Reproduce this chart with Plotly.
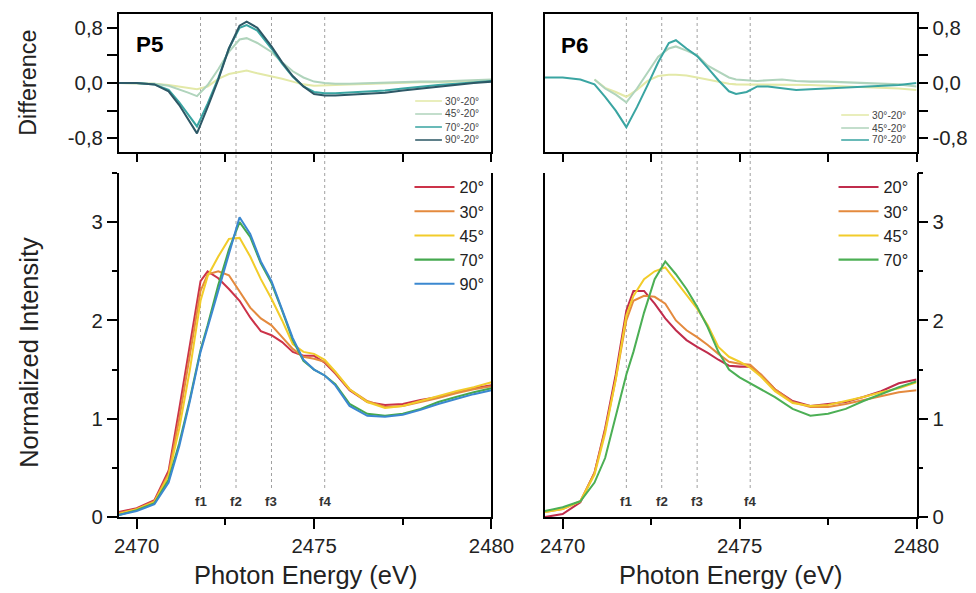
import plotly.graph_objects as go

# ---------------- data ----------------
energy = [2469.5, 2470.0, 2470.5, 2470.9, 2471.2, 2471.5, 2471.8, 2472.0, 2472.3, 2472.6,
          2472.9, 2473.2, 2473.5, 2473.8, 2474.1, 2474.4, 2474.7, 2475.0, 2475.3, 2475.6,
          2476.0, 2476.5, 2477.0, 2477.5, 2478.0, 2478.5, 2479.0, 2479.5, 2480.0]

p5_20 = [0.05, 0.09, 0.17, 0.47, 1.10, 1.75, 2.40, 2.50, 2.43, 2.32, 2.20, 2.03, 1.89, 1.85, 1.78,
         1.68, 1.64, 1.64, 1.57, 1.46, 1.29, 1.17, 1.14, 1.15, 1.19, 1.22, 1.27, 1.31, 1.34]
p5_30 = [0.04, 0.08, 0.16, 0.44, 1.00, 1.65, 2.30, 2.47, 2.50, 2.46, 2.30, 2.13, 2.02, 1.95, 1.83,
         1.71, 1.63, 1.61, 1.58, 1.47, 1.30, 1.18, 1.12, 1.13, 1.17, 1.21, 1.26, 1.30, 1.33]
p5_45 = [0.03, 0.08, 0.15, 0.42, 0.90, 1.50, 2.20, 2.45, 2.65, 2.83, 2.84, 2.65, 2.42, 2.22, 2.00,
         1.76, 1.68, 1.66, 1.60, 1.48, 1.30, 1.17, 1.11, 1.13, 1.18, 1.23, 1.28, 1.32, 1.37]
p5_70 = [0.02, 0.07, 0.14, 0.38, 0.75, 1.20, 1.70, 1.95, 2.36, 2.72, 3.00, 2.85, 2.58, 2.38, 2.10,
         1.80, 1.59, 1.50, 1.44, 1.35, 1.15, 1.05, 1.03, 1.05, 1.10, 1.17, 1.22, 1.27, 1.31]
p5_90 = [0.02, 0.06, 0.13, 0.35, 0.72, 1.18, 1.68, 1.93, 2.32, 2.70, 3.05, 2.88, 2.60, 2.40, 2.12,
         1.82, 1.60, 1.50, 1.44, 1.34, 1.13, 1.03, 1.02, 1.04, 1.09, 1.15, 1.20, 1.25, 1.29]

p6_20 = [0.00, 0.03, 0.15, 0.45, 0.90, 1.45, 2.10, 2.30, 2.30, 2.17, 2.02, 1.90, 1.80, 1.73, 1.67,
         1.60, 1.54, 1.53, 1.53, 1.45, 1.30, 1.18, 1.13, 1.15, 1.17, 1.22, 1.28, 1.36, 1.40]
p6_30 = [0.05, 0.08, 0.16, 0.45, 0.88, 1.40, 2.00, 2.20, 2.25, 2.24, 2.17, 2.00, 1.90, 1.83, 1.75,
         1.66, 1.58, 1.56, 1.55, 1.45, 1.30, 1.17, 1.12, 1.12, 1.15, 1.19, 1.23, 1.27, 1.29]
p6_45 = [0.05, 0.08, 0.16, 0.43, 0.85, 1.40, 2.05, 2.25, 2.42, 2.50, 2.54, 2.40, 2.25, 2.12, 1.95,
         1.73, 1.63, 1.58, 1.52, 1.43, 1.28, 1.16, 1.13, 1.14, 1.18, 1.22, 1.27, 1.31, 1.37]
p6_70 = [0.06, 0.10, 0.16, 0.35, 0.60, 1.02, 1.45, 1.68, 2.08, 2.42, 2.60, 2.47, 2.32, 2.14, 1.93,
         1.68, 1.50, 1.42, 1.36, 1.30, 1.22, 1.10, 1.03, 1.05, 1.10, 1.18, 1.25, 1.32, 1.38]

energy_d5 = [2469.5, 2470.0, 2470.5, 2470.9, 2471.2, 2471.45, 2471.7, 2472.0, 2472.3, 2472.6,
             2472.9, 2473.1, 2473.4, 2473.8, 2474.1, 2474.4, 2474.7, 2475.0, 2475.3, 2475.6,
             2476.0, 2476.5, 2477.0, 2477.5, 2478.0, 2478.5, 2479.0, 2479.5, 2480.0]
d5_30 = [0.0, 0.0, -0.01, -0.03, -0.05, -0.07, -0.09, -0.05, 0.06, 0.13, 0.16, 0.18, 0.14, 0.10, 0.06,
         0.02, -0.02, -0.04, -0.04, -0.03, -0.02, -0.01, -0.01, 0.0, 0.01, 0.01, 0.02, 0.03, 0.04]
d5_45 = [0.0, 0.0, -0.01, -0.04, -0.09, -0.14, -0.19, -0.03, 0.20, 0.45, 0.63, 0.65, 0.58, 0.45, 0.30,
         0.17, 0.08, 0.02, 0.0, -0.01, -0.01, 0.0, 0.0, 0.01, 0.02, 0.02, 0.03, 0.04, 0.05]
d5_70 = [0.0, 0.0, -0.02, -0.10, -0.28, -0.45, -0.63, -0.30, 0.07, 0.50, 0.80, 0.84, 0.76, 0.50, 0.28,
         0.09, -0.05, -0.13, -0.15, -0.15, -0.14, -0.13, -0.11, -0.08, -0.05, -0.03, -0.01, 0.01, 0.03]
d5_90 = [0.0, 0.0, -0.02, -0.12, -0.32, -0.52, -0.73, -0.35, 0.05, 0.50, 0.83, 0.89, 0.80, 0.53, 0.30,
         0.10, -0.05, -0.16, -0.18, -0.18, -0.17, -0.16, -0.14, -0.11, -0.08, -0.05, -0.02, 0.0, 0.02]

energy_d6 = [2469.5, 2470.0, 2470.5, 2470.9, 2471.2, 2471.5, 2471.8, 2472.1, 2472.4, 2472.7,
             2473.0, 2473.2, 2473.5, 2473.8, 2474.1, 2474.4, 2474.7, 2474.9, 2475.2, 2475.5,
             2475.8, 2476.2, 2476.6, 2477.0, 2477.5, 2478.0, 2478.5, 2479.0, 2479.5, 2480.0]
d6_30 = [None, None, None, 0.05, -0.07, -0.13, -0.20, -0.10, 0.03, 0.10, 0.12, 0.12, 0.11, 0.08, 0.05,
         0.01, -0.01, -0.02, -0.02, -0.03, -0.02, -0.02, -0.03, -0.03, -0.04, -0.05, -0.05, -0.06, -0.08, -0.10]
d6_45 = [None, None, None, 0.05, -0.08, -0.17, -0.28, -0.08, 0.15, 0.38, 0.50, 0.53, 0.47, 0.40, 0.25,
         0.17, 0.08, 0.05, 0.04, 0.03, 0.04, 0.05, 0.03, 0.02, 0.02, 0.01, 0.01, 0.0, -0.02, -0.05]
d6_70 = [0.08, 0.08, 0.05, -0.02, -0.20, -0.40, -0.64, -0.35, -0.03, 0.30, 0.58, 0.62, 0.50, 0.39, 0.22,
         0.04, -0.12, -0.16, -0.13, -0.05, -0.05, -0.08, -0.10, -0.09, -0.08, -0.06, -0.05, -0.04, -0.03, 0.0]

angle_names_p5 = ["20°", "30°", "45°", "70°", "90°"]
angle_names_p6 = ["20°", "30°", "45°", "70°"]
diff_names_p5 = ["30°-20°", "45°-20°", "70°-20°", "90°-20°"]
diff_names_p6 = ["30°-20°", "45°-20°", "70°-20°"]
feature_energies = [2471.8, 2472.8, 2473.8, 2475.3]
feature_labels = ["f1", "f2", "f3", "f4"]
x_ticks = [2470, 2475, 2480]
x_minor = [2472.5, 2477.5]
y_ticks = [0, 1, 2, 3]
y_minor = [0.5, 1.5, 2.5, 3.5]
d_ticks = [-0.8, -0.4, 0.0, 0.4, 0.8]
d_ticktext = ["-0,8", "", "0,0", "", "0,8"]

angle_colors = ["#cc3349", "#e48a3e", "#f2cc2a", "#45a84f", "#3b88d0"]
angle_colors_p6 = ["#c02c4c", "#e48a3e", "#f2cc2a", "#4caf55"]
diff_colors = ["#e3e9a8", "#b0d4bc", "#3aa5a2", "#2d5866"]

# ---------------- geometry ----------------
RW, RH = 976, 593           # reference picture size
K = 1 / 0.982               # the page is photographed slightly scaled down
W, H = round(RW * K), round(RH * K)
def px(x): return x / RW
def py(y): return 1 - y / RH
def s(v): return v * K

xL = [px(116), px(492)]
xR = [px(546), px(921)]
yT = [py(152), py(14)]
yB = [py(517), py(173)]
FONT = "Liberation Sans, Arial, sans-serif"

fig = go.Figure()

for name, ys, c in zip(angle_names_p5, [p5_20, p5_30, p5_45, p5_70, p5_90], angle_colors):
    fig.add_trace(go.Scatter(x=energy, y=ys, mode="lines", name=name, line=dict(color=c, width=s(2)),
                             xaxis="x2", yaxis="y2", legend="legend2"))
for name, ys, c in zip(angle_names_p6, [p6_20, p6_30, p6_45, p6_70], angle_colors_p6):
    fig.add_trace(go.Scatter(x=energy, y=ys, mode="lines", name=name, line=dict(color=c, width=s(2)),
                             xaxis="x4", yaxis="y4", legend="legend4"))
for name, ys, c in zip(diff_names_p5, [d5_30, d5_45, d5_70, d5_90], diff_colors):
    fig.add_trace(go.Scatter(x=energy_d5, y=ys, mode="lines", name=name, line=dict(color=c, width=s(2)),
                             xaxis="x", yaxis="y", showlegend=False))
for name, ys, c in zip(diff_names_p6, [d6_30, d6_45, d6_70], diff_colors[:3]):
    fig.add_trace(go.Scatter(x=energy_d6, y=ys, mode="lines", name=name, line=dict(color=c, width=s(2)),
                             xaxis="x3", yaxis="y3", showlegend=False))

axis_common = dict(showgrid=False, zeroline=False, showline=True, linecolor="black", linewidth=s(1.5),
                   tickcolor="black", tickwidth=s(1.5), tickfont=dict(family=FONT, size=s(20), color="#222"))
xr = [2469.5, 2480]

def top_x(domain, anchor):
    return dict(axis_common, domain=domain, anchor=anchor, range=xr, showticklabels=False,
                ticks="outside", ticklen=s(8), tickvals=[2470, 2472.5, 2475, 2477.5, 2480], mirror=True)

def top_x_inner(over, anchor):
    return dict(showgrid=False, zeroline=False, showline=False, overlaying=over, anchor=anchor,
                side="top", range=xr, ticks="inside", ticklen=s(10), tickwidth=s(1.5), tickcolor="black",
                tickvals=[2470, 2472.5, 2475, 2477.5, 2480], showticklabels=False)

def bot_x(domain, anchor):
    return dict(axis_common, domain=domain, anchor=anchor, range=xr, ticks="outside", ticklen=s(10),
                tickvals=x_ticks, minor=dict(tickvals=x_minor, ticks="outside", ticklen=s(6),
                                             tickwidth=s(1.5), tickcolor="black"))

def top_y(anchor, side):
    return dict(axis_common, domain=yT, anchor=anchor, side=side, range=[-1, 1], ticks="outside",
                ticklen=s(10), tickvals=d_ticks, ticktext=d_ticktext, mirror=True)

def bot_y(anchor, side):
    return dict(axis_common, domain=yB, anchor=anchor, side=side, range=[0, 3.5], ticks="outside",
                ticklen=s(10), tickvals=y_ticks, mirror=True,
                minor=dict(tickvals=y_minor, ticks="outside", ticklen=s(5), tickwidth=s(1.5),
                           tickcolor="black"))

fig.update_layout(
    xaxis=top_x(xL, "y"), yaxis=top_y("x", "left"),
    xaxis2=bot_x(xL, "y2"), yaxis2=bot_y("x2", "left"),
    xaxis3=top_x(xR, "y3"), yaxis3=top_y("x3", "right"),
    xaxis4=bot_x(xR, "y4"), yaxis4=bot_y("x4", "right"),
    xaxis5=top_x_inner("x", "y"), xaxis6=top_x_inner("x3", "y3"),
)

shapes = []
for xref in ["x", "x3"]:
    for fe in feature_energies:
        shapes.append(dict(type="line", xref=xref, yref="paper", x0=fe, x1=fe, y0=py(488), y1=py(14),
                           line=dict(color="#a0a0a0", width=1, dash="3px,3px"), layer="below"))

annotations = []
for xref, yref in [("x2", "y2"), ("x4", "y4")]:
    for fe, lab in zip(feature_energies, feature_labels):
        annotations.append(dict(x=fe, y=0.16, xref=xref, yref=yref, text="<b>%s</b>" % lab,
                                xanchor="center", yanchor="middle",
                                showarrow=False, font=dict(family=FONT, size=s(13), color="#333")))

def small_legend(names, colors, x0, x1, ys):
    for n, c, yy in zip(names, colors, ys):
        shapes.append(dict(type="line", xref="paper", yref="paper", x0=px(x0), x1=px(x1),
                           y0=py(yy), y1=py(yy), line=dict(color=c, width=s(1.5))))
        annotations.append(dict(x=px(x1 + 1), y=py(yy), xref="paper", yref="paper", text=n,
                                xanchor="left", yanchor="middle", showarrow=False,
                                font=dict(family=FONT, size=s(10), color="#444")))

small_legend(diff_names_p5, diff_colors, 415, 442, [101, 114, 127, 140])
small_legend(diff_names_p6, diff_colors[:3], 845, 873, [115, 128, 140])

def label(x, y, text, size, angle=0, color="#222"):
    return dict(x=px(x), y=py(y), xref="paper", yref="paper", text=text, textangle=angle,
                xanchor="center", yanchor="middle", showarrow=False,
                font=dict(family=FONT, size=s(size), color=color))

annotations += [
    label(147, 44, "<b>P5</b>", 22, color="black"),
    label(576, 45, "<b>P6</b>", 22, color="black"),
    label(24, 83, "Difference", 23, angle=-90),
    label(25, 352, "Normalized Intensity", 25, angle=-90),
    label(304, 575, "Photon Energy (eV)", 25),
    label(733, 575, "Photon Energy (eV)", 25),
]

legend_common = dict(xref="paper", yref="paper", xanchor="right", yanchor="top",
                     bgcolor="rgba(0,0,0,0)", borderwidth=0, itemwidth=40, tracegroupgap=0,
                     font=dict(family=FONT, size=s(16), color="#222"))
fig.update_layout(
    width=W, height=H, autosize=False, margin=dict(l=0, r=0, t=0, b=0),
    paper_bgcolor="white", plot_bgcolor="white",
    shapes=shapes, annotations=annotations,
    legend2=dict(legend_common, x=px(490), y=py(170)),
    legend4=dict(legend_common, x=px(918), y=py(170)),
)

fig.write_html("out.html", config={"displayModeBar": False},
               post_script="document.body.style.margin='0';document.body.style.overflow='hidden';")
